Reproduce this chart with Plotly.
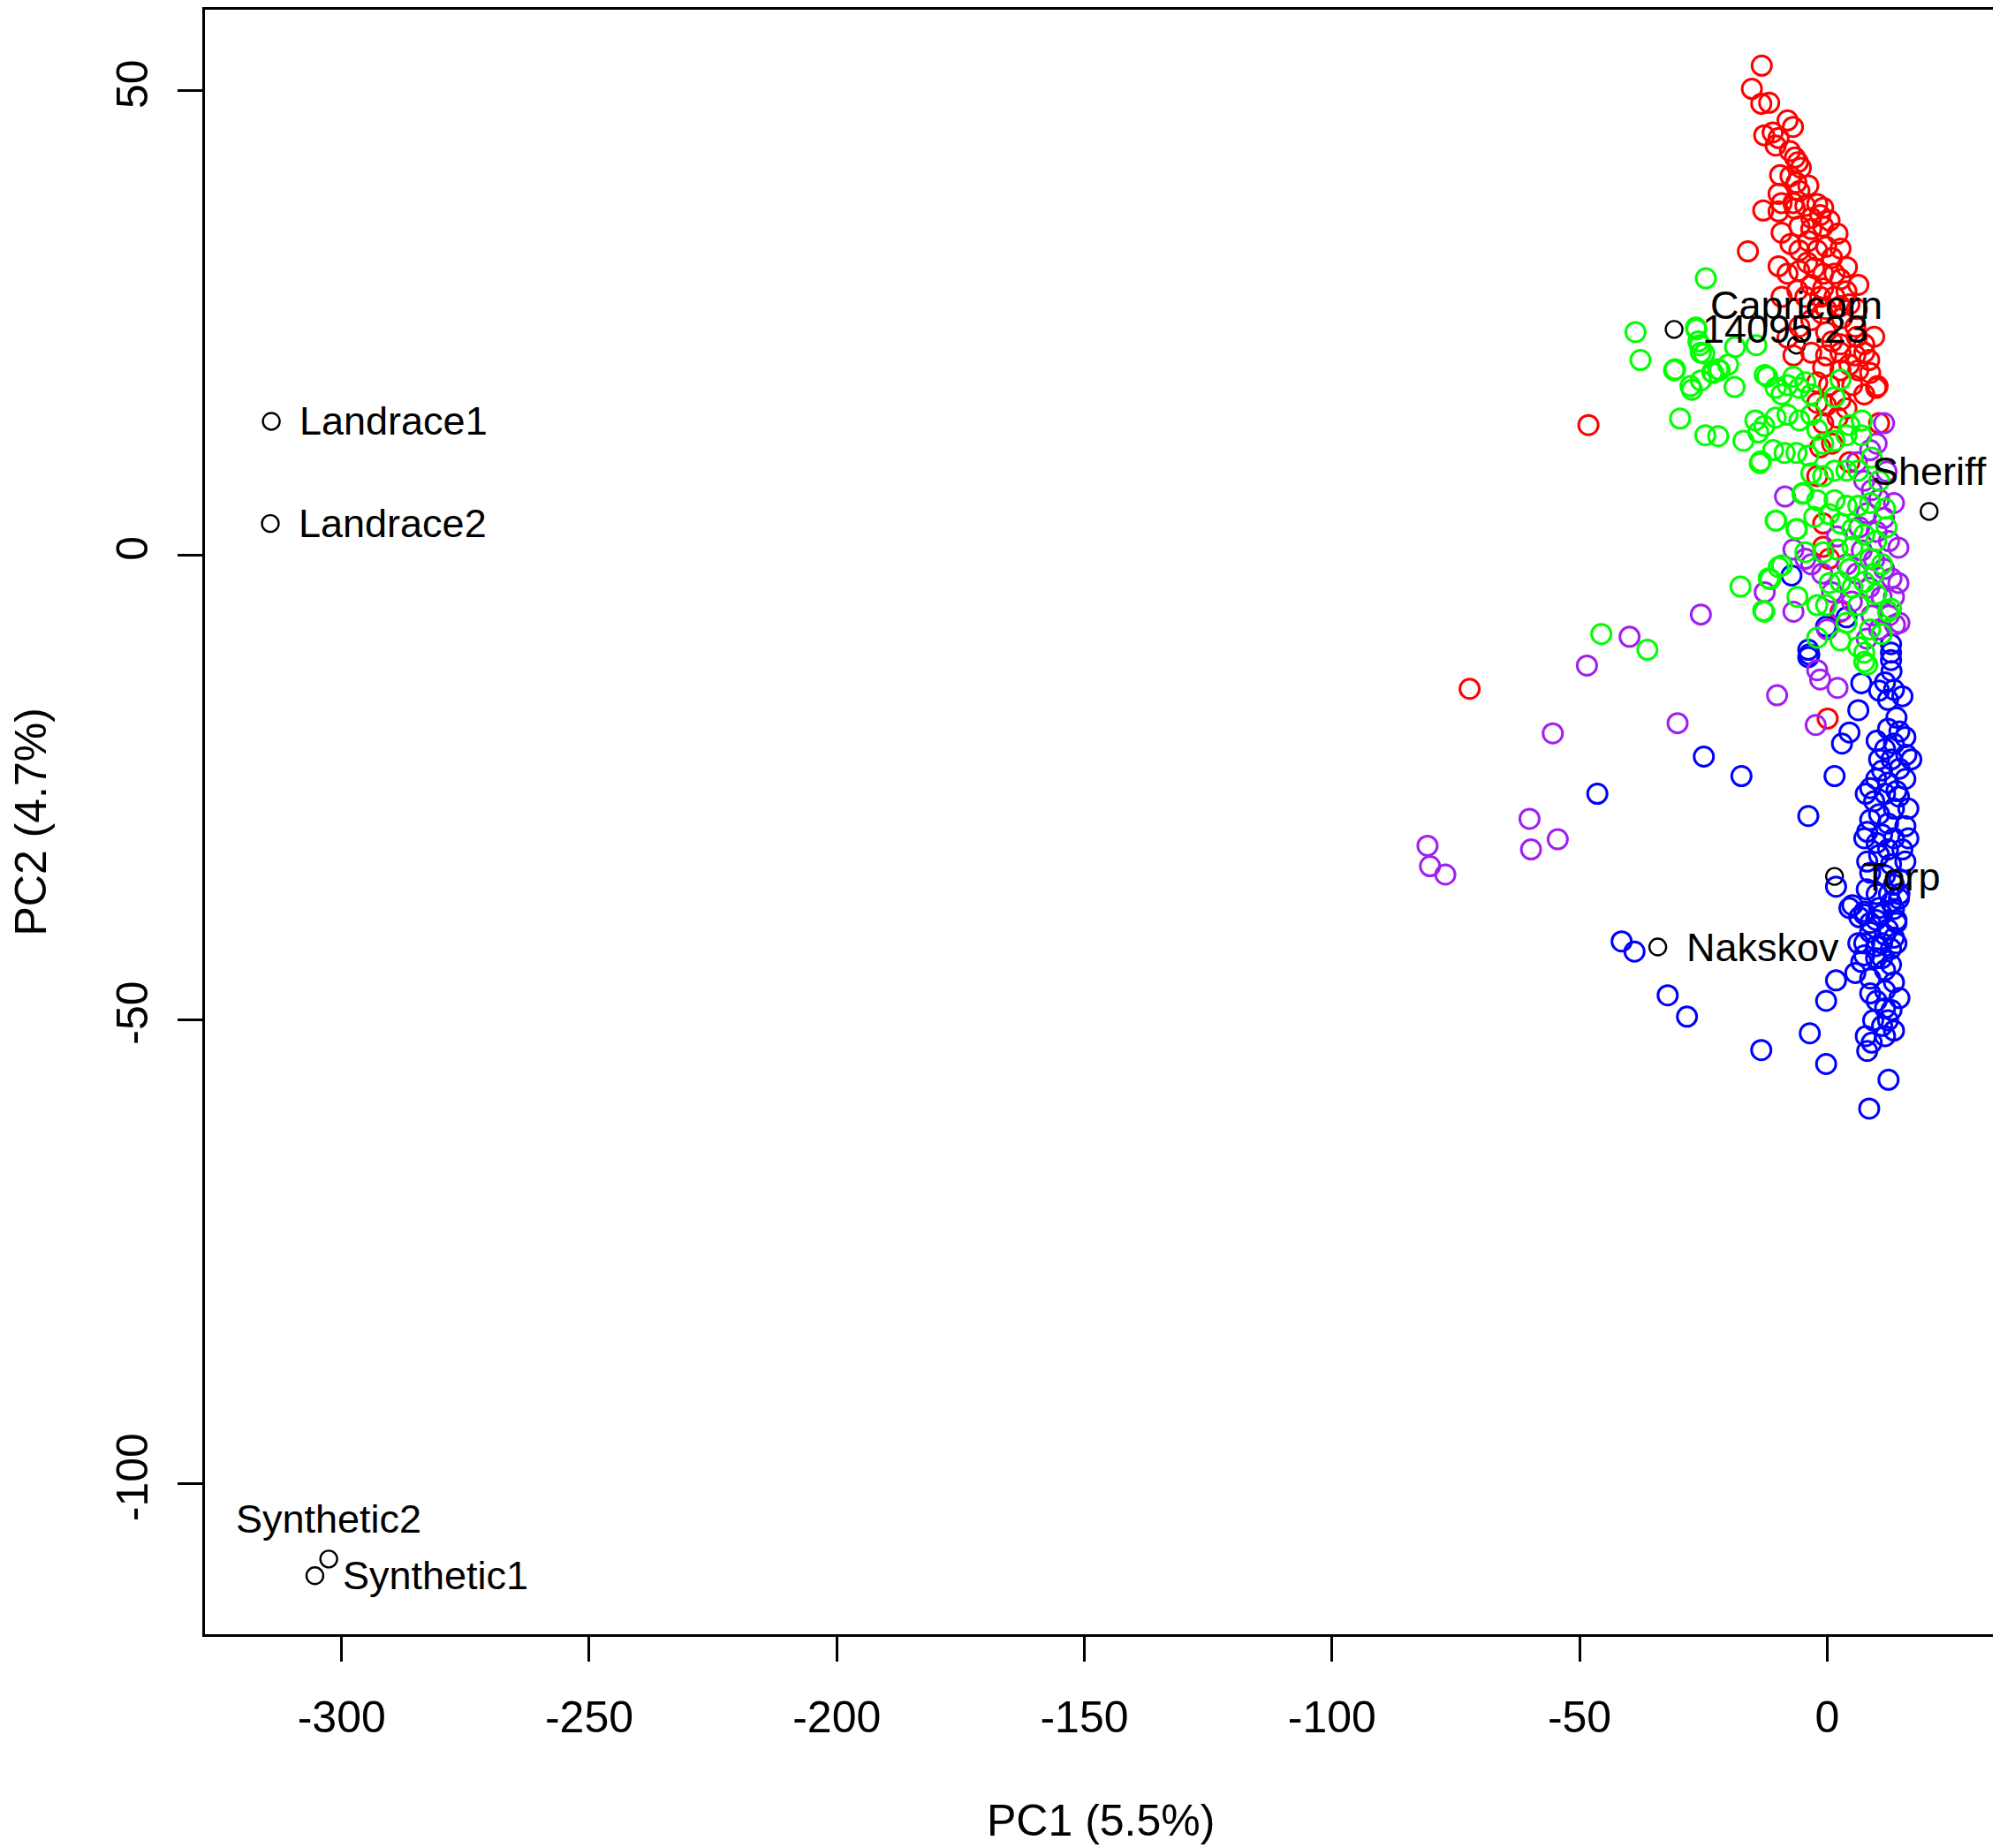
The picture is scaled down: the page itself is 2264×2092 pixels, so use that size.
import plotly.graph_objects as go

# PCA scores, grouped by colour
red_x = [-13.2, -15.2, -13.3, -11.7, -8.0, -6.9, -12.7, -11.0, -9.8, -10.4, -6.5, -5.9, -5.3, -9.5, -7.4,
         -6.2, -3.8, -5.6, -9.8, -9.2, -6.8, -6.5, -4.4, -2.0, -0.8, -1.4, -3.2, -12.9, -9.8, -9.2,
         -5.6, -3.2, -0.8, 2.1, 2.7, -3.8, -7.4, -5.6, -2.0, -0.2, -16.0, -9.8, -8.0, -5.6, -2.6,
         -0.8, 1.5, 2.7, 6.3, -3.2, -0.8, 3.9, -4.4, -1.4, 1.5, -9.2, -0.2, 2.7, 5.7, -3.2,
         -0.2, 2.7, 7.5, -8.0, -5.6, -6.8, -3.2, -0.2, 2.7, 5.7, 7.5, -0.8, 2.7, 6.3, 8.7,
         9.9, -2.0, 0.4, 5.1, 7.5, 2.7, -2.0, -0.2, 3.9, 10.5, -0.8, 2.1, -1.4, -2.0, -0.8,
         -0.8, 2.7, 0.4, -48.2, -72.2, 0.1, 10.2, 1.0, 4.5, 1.0, -4.0, 0.5, -7.5, 4.5, 4.0,
         -1.0, 6.0, -6.0, 3.0, 9.5, 8.5, 4.5, 1.0, 6.0]
red_y = [52.7, 50.2, 48.6, 48.7, 46.8, 46.1, 45.2, 45.5, 44.9, 44.1, 42.8, 42.3, 41.7, 40.9, 40.8,
         40.1, 39.8, 39.2, 38.9, 37.9, 37.9, 37.3, 37.6, 37.8, 37.4, 36.6, 36.3, 37.1, 37.0, 34.7,
         35.4, 35.1, 35.4, 34.6, 33.0, 33.8, 33.5, 32.8, 32.8, 33.2, 32.7, 31.1, 30.3, 30.6, 30.9,
         30.3, 30.3, 29.7, 29.1, 29.1, 28.7, 28.4, 27.8, 27.8, 27.8, 27.8, 26.5, 26.8, 24.6, 25.3,
         24.0, 22.7, 22.7, 23.4, 24.6, 21.5, 21.8, 21.5, 21.8, 21.5, 21.8, 20.2, 19.9, 19.9, 19.6,
         18.0, 18.6, 18.3, 18.3, 17.3, 16.7, 16.4, 16.1, 15.8, 14.2, 14.2, 14.8, 11.6, 8.5, 3.4,
         0.9, -6.1, -0.4, 14.0, -14.4, -17.6, 18.2, 12.0, 10.0, 32.0, 31.5, 36.0, 43.5, 27.0, 31.0,
         26.0, 26.5, 28.5, 25.5, 23.5, 21.0, 20.5, 23.0, 23.5]

green_x = [-24.5, -38.7, -37.7, -30.7, -26.4, -26.0, -25.5, -18.6, -20.0, -22.0, -27.6, -30.9, -27.3,
           -25.5, -23.2, -21.7, -18.7, -29.7, -24.6, -22.0, -16.9, -14.5, -12.7, -13.9, -13.6, -12.1,
           -45.6, -36.3, -17.5, -12.9, -10.3, -26.5, -25.7, -24.8, -14.3, -23.0, -12.6, -13.4, -4.8,
           -6.1, -11.8, -9.1, -10.4, -9.2, -8.0, -6.8, -5.6, -4.4, -3.2, -10.9, -8.6, -6.2, -3.8,
           -10.4, -8.0, -5.6, -3.2, -2.0, -0.8, 1.5, 3.9, 6.9, -3.2, -0.8, 1.5, 3.9, 6.3,
           -5.0, -2.0, 1.5, 3.9, 6.3, 8.7, 11.7, -10.4, -6.2, -2.6, 0.4, 2.7, 5.1, 7.5, 9.9,
           -4.4, -0.8, 2.1, 5.1, 8.7, 11.1, -9.8, -11.5, -12.7, -2.0, -0.2, 2.7, 5.1, 7.5,
           9.9, 12.3, 12.9, 6.3, 3.9, 8.7, 2.7, -2.0, 6.3, 7.5, 8.1, 7.5, 2.7, 1.5, 4.5, 7.0,
           9.0, 10.5, 12.0, 9.5, 11.0, 4.5, 0.5, -6.0]
green_y = [29.8, 24.0, 21.0, 20.0, 24.3, 23.0, 21.8, 22.4, 20.5, 20.0, 18.2, 19.9, 17.8,
           18.8, 19.7, 19.9, 18.1, 14.7, 12.9, 12.8, 12.3, 14.5, 13.9, 13.2, 9.9, 19.2,
           -8.5, -10.2, -3.4, -6.0, 3.7, 24.5, 22.6, 21.7, 22.6, 19.6, 19.4, 10.1, 6.7,
           2.8, -2.5, -1.1, 18.0, 17.3, 18.3, 19.2, 18.0, 18.6, 17.3, 11.3, 11.0, 11.0, 10.7,
           14.8, 15.1, 14.5, 15.1, 13.5, 12.0, 12.3, 12.9, 12.9, 8.8, 8.5, 9.1, 9.1, 9.1,
           6.6, 5.9, 5.9, 5.3, 5.3, 5.6, 5.0, 3.7, 2.8, 4.1, 4.4, 3.4, 2.8, 2.2, 1.5,
           0.3, 0.3, 0.6, 0.9, -0.4, -1.0, -1.3, -2.6, -6.1, -5.4, -5.4, -2.9, -3.5, -2.9,
           -4.2, -6.1, -5.8, -5.4, -7.3, -8.0, -9.2, -8.9, -9.9, -10.5, -11.8, -11.5, 18.9, 17.0, 14.0, 14.5,
           10.5, 8.0, 3.0, -2.0, -8.5, -1.5, -3.0, -4.5]

purple_x = [11.5, 14.4, 14.4, 13.7, -8.5, -12.6, -25.5, -39.9, -48.5, -10.1, -30.2, -55.4, -60.1,
            -59.8, -54.4, -80.7, -80.2, -77.1, -2.0, -1.4, 2.1, -2.3, -6.8, -4.4, -3.2, -6.8,
            8.7, 13.5, 14.6, 6.0, 7.5, 9.0, 10.5, 11.5, 8.0, 6.5, 10.0, 12.5, 7.0, 9.5,
            11.5, 13.0, 6.0, 8.5, 11.0, 12.5, 5.0, 9.0, 10.5, 4.0, 2.0, -1.0, 0.0, 1.0,
            12.0, 10.0, 3.0, 13.5, 8.0]
purple_y = [14.2, 0.8, -3.0, -7.5, 6.3, -4.0, -6.4, -8.8, -11.9, -15.1, -18.1, -19.2, -28.4,
            -31.7, -30.6, -31.3, -33.5, -34.4, -12.4, -13.4, -14.3, -18.3, 0.6, -0.4, -1.0, -6.1,
            11.3, 5.6, -7.3, 10.0, 8.0, 7.0, 6.0, 4.0, 4.5, 3.0, 2.5, 1.5, 0.5, -0.5,
            -1.5, -2.5, -2.0, -3.5, -4.5, -6.5, -5.0, -6.5, -8.0, -1.0, 2.0, -2.0, -8.0, -4.0,
            9.0, 12.0, -6.0, -4.5, -9.0]

blue_x = [-7.2, -3.6, -46.4, -24.9, -17.3, 1.5, 3.0, 4.5, 6.3, 6.9, -3.8, -3.8, -41.5, -38.9,
          -32.2, -28.3, -13.3, -3.5, -0.2, -0.2, 1.8, 8.1, 8.5, 12.4, 1.8, 5.1, 4.5, -0.2,
          -3.8, 12.9, 12.9, 3.9,
          12.9, 11.7, 13.5, 15.2, 12.3, 10.5, 13.0,
          12.3, 14.6, 15.8, 13.5, 11.7, 10.0, 14.0,
          17.0, 14.6, 11.1, 9.9, 12.3, 15.8, 14.0, 11.7, 8.7, 7.8, 13.0, 16.0, 10.5,
          16.4, 13.5, 10.5, 8.7, 12.3, 15.8, 8.1, 11.1, 13.5, 16.4, 7.5, 14.5, 9.5,
          15.2, 12.3, 10.5, 8.1, 12.9, 15.8, 8.7, 11.7, 14.6, 10.0, 13.5,
          7.5, 11.1, 13.5, 9.9, 14.0, 8.7, 11.7, 13.5, 6.3, 9.9, 12.9, 7.5, 11.1, 6.5, 10.0,
          12.5, 14.5, 8.0,
          7.5, 10.5, 12.9, 14.6, 8.7, 12.3, 14.0, 7.5, 11.1, 14.0, 6.9, 9.9, 12.9, 5.7, 8.7,
          11.7, 13.5, 8.7, 11.7, 14.6, 11.7, 9.3, 12.3, 11.1, 7.8, 11.7, 13.5, 10.0, 13.0, 9.0]
blue_y = [-2.2, -10.7, -25.7, -21.7, -23.8, -23.8, -20.3, -19.1, -16.7, -13.8, -11.0, -28.1, -41.6, -42.7,
          -47.4, -49.7, -53.3, -51.5, -54.8, -48.0, -45.8, -53.4, -59.6, -56.5, -35.7, -37.7, -38.0, -7.7,
          -10.2, -9.6, -10.5, -6.7,
          -11.3, -13.7, -14.5, -15.2, -15.6, -14.6, -12.5,
          -18.7, -19.0, -19.6, -20.3, -20.9, -20.0, -17.5,
          -22.0, -23.0, -23.2, -24.1, -24.5, -24.1, -25.4, -25.7, -25.1, -25.7, -22.0, -21.5, -22.0,
          -27.3, -27.3, -27.9, -28.5, -28.9, -29.2, -29.8, -30.1, -30.5, -30.5, -30.5, -26.0, -26.5,
          -31.7, -31.7, -32.3, -33.0, -33.3, -33.0, -34.2, -34.5, -34.9, -31.0, -35.5,
          -38.4, -38.7, -38.1, -39.3, -39.3, -40.6, -40.9, -41.2, -41.8, -42.1, -42.4, -43.1, -43.4, -39.0, -36.5,
          -36.5, -37.0, -36.0,
          -38.7, -38.0, -37.4, -36.5, -39.6, -40.3, -39.6, -41.8, -41.8, -41.8, -43.8, -43.4, -44.1, -45.0, -45.6,
          -44.7, -46.0, -47.2, -46.9, -47.7, -48.8, -50.1, -50.1, -50.7, -51.8, -51.8, -51.2, -48.0, -49.0, -52.5]

# named lines, with where R put the label (right of / above the point)
named = ["Landrace1", "Landrace2", "Synthetic1", "Synthetic2", "Sheriff", "Capricorn", "14095.23", "Torp", "Nakskov"]
named_x = [-314.2, -314.4, -305.4, -302.6, 20.6, -6.2, -30.9, 1.5, -34.2]
named_y = [14.4, 3.4, -109.9, -108.1, 4.7, 22.6, 24.3, -34.6, -42.2]
named_pos = ["right", "right", "right", "top", "top", "top", "right", "right", "right"]

x_ticks = [-300, -250, -200, -150, -100, -50, 0]
y_ticks = [-100, -50, 0, 50]

FONT = "Liberation Sans, Arial, sans-serif"

fig = go.Figure()

fig.add_trace(go.Scatter(x=named_x, y=named_y, mode="markers",
                         marker=dict(symbol="circle-open", size=19, color="black", line=dict(width=2.4))))

groups = [(red_x, red_y, "#FF0000"), (blue_x, blue_y, "#0000FF"),
          (purple_x, purple_y, "#A020F0"), (green_x, green_y, "#00FF00")]
for gx, gy, col in groups:
    fig.add_trace(go.Scatter(x=gx, y=gy, mode="markers",
                             marker=dict(symbol="circle-open", size=22, color=col, line=dict(width=3))))

for name, x, y, pos in zip(named, named_x, named_y, named_pos):
    if pos == "right":
        fig.add_annotation(x=x, y=y, text=name, showarrow=False, xanchor="left", yanchor="middle",
                           xshift=30, font=dict(family=FONT, size=45, color="black"))
    else:
        fig.add_annotation(x=x, y=y, text=name, showarrow=False, xanchor="center", yanchor="middle",
                           yshift=45, font=dict(family=FONT, size=45, color="black"))

# axis titles placed like R's mtext lines
fig.add_annotation(x=0.5, y=0, xref="paper", yref="paper", text="PC1 (5.5%)", showarrow=False,
                   xanchor="center", yanchor="middle", yshift=-211, font=dict(family=FONT, size=50, color="black"))
fig.add_annotation(x=0, y=0.5, xref="paper", yref="paper", text="PC2 (4.7%)", showarrow=False,
                   textangle=-90, xanchor="center", yanchor="middle", xshift=-198,
                   font=dict(family=FONT, size=50, color="black"))

axis_common = dict(showline=True, mirror=True, linecolor="black", linewidth=3, showgrid=False,
                   zeroline=False, ticks="outside", ticklen=28, tickwidth=3, tickcolor="black",
                   tickfont=dict(family=FONT, size=50, color="black"))

fig.update_xaxes(range=[-327.6, 34.2], tickvals=x_ticks, ticktext=[str(v) for v in x_ticks],
                 ticklabelstandoff=20, **axis_common)
fig.update_yaxes(range=[-116.2, 58.72], tickvals=y_ticks, ticktext=[str(v) for v in y_ticks],
                 tickangle=-90, ticklabelstandoff=14, **axis_common)

# page body adds an 8px margin, so the figure is 8px smaller than the window
fig.update_layout(width=2256, height=2084, margin=dict(l=224, r=4, t=0, b=242),
                  plot_bgcolor="white", paper_bgcolor="white", showlegend=False,
                  font=dict(family=FONT, color="black"))

fig.write_html("out.html")
